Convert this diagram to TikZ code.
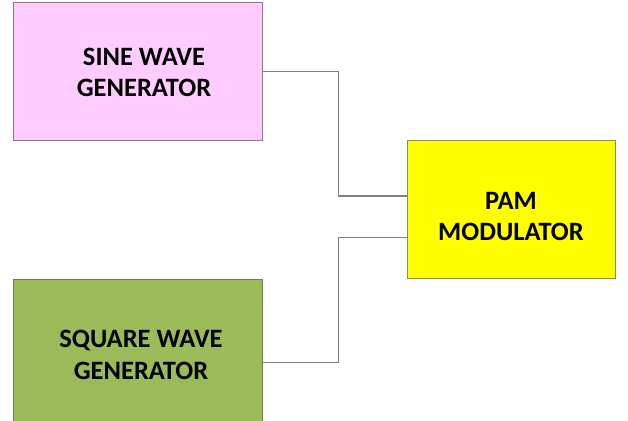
\documentclass[tikz,border=0pt]{standalone}
\usepackage{fontspec}
\setmainfont{Carlito}
\usetikzlibrary{calc}
\definecolor{pinkfill}{HTML}{FFCCFF}
\definecolor{pinkline}{HTML}{8E7A8E}
\definecolor{greenfill}{HTML}{9BBB59}
\definecolor{greenline}{HTML}{6E7D55}
\definecolor{yellowfill}{HTML}{FFFF00}
\definecolor{yellowline}{HTML}{8A8A6A}
\definecolor{wire}{HTML}{808080}
\tikzset{
  blockbox/.style={draw, line width=1pt, rectangle, inner sep=0pt},
  lbl/.style={align=center, inner sep=0pt, font=\fontsize{26.5}{31.7}\selectfont\bfseries, text=black},
  wireline/.style={draw=wire, line width=1.2pt}
}
\begin{document}
\begin{tikzpicture}[x=1pt,y=1pt]
\clip (0,0) rectangle (628,420);
\fill[white] (0,0) rectangle (628,420);
% boxes
\node[blockbox, fill=pinkfill, draw=pinkline, minimum width=249pt, minimum height=138pt] (sine) at (137.5,348.5) {};
\node[blockbox, fill=greenfill, draw=greenline, minimum width=249pt, minimum height=160pt] (sq) at (137.5,60.7) {};
\node[blockbox, fill=yellowfill, draw=yellowline, minimum width=207.7pt, minimum height=138pt] (pam) at (511.8,210) {};
% labels
\node[lbl] (sinet) at (144,347.5) {SINE WAVE\\GENERATOR};
\node[lbl] (sqt) at (141,65) {SQUARE WAVE\\GENERATOR};
\node[lbl] (pamt) at (511,203.5) {PAM\\MODULATOR};
% connector anchors
\coordinate (p1) at ($(pam.west)+(0,14)$);
\coordinate (p2) at ($(pam.west)+(0,-27.7)$);
\coordinate (s2) at ($(sq.east)+(0,-3.4)$);
% connectors
\draw[wireline] (sine.east) -- ++(76,0) |- (p1);
\draw[wireline] (s2) -- ++(76,0) |- (p2);
\end{tikzpicture}
\end{document}
